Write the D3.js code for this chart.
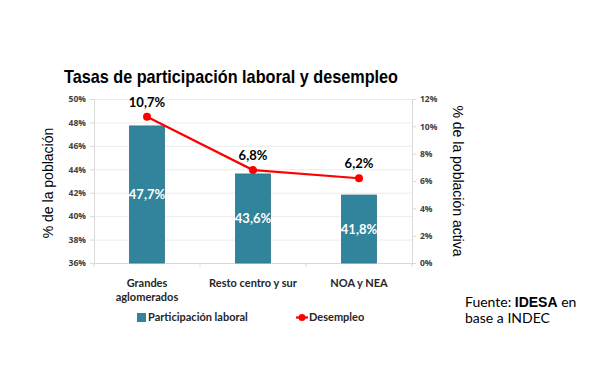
<!DOCTYPE html>
<html>
<head>
<meta charset="utf-8">
<script src="https://cdn.jsdelivr.net/npm/d3@7"></script>
<style>
  body { margin: 0; background: #fff; }
  svg text { font-family: Lato, "Open Sans", sans-serif; }
</style>
</head>
<body>
<svg id="chart" width="612" height="370"></svg>
<script>
// data
var regions = [['Grandes', 'aglomerados'], ['Resto centro y sur'], ['NOA y NEA']];
var participacion = [47.7, 43.6, 41.8];
var desempleo = [10.7, 6.8, 6.2];
var leftTicks = [36, 38, 40, 42, 44, 46, 48, 50];
var rightTicks = [0, 2, 4, 6, 8, 10, 12];

var svg = d3.select('#chart');
var plot = { left: 94, right: 412, top: 99, bottom: 263 };

var fmt = function(v) { return v.toFixed(1).replace('.', ',') + '%'; };

var x = d3.scaleBand()
  .domain(d3.range(regions.length))
  .range([plot.left, plot.right])
  .paddingInner(0.67)
  .paddingOuter(0.335);

var yLeft = d3.scaleLinear().domain([36, 50]).range([plot.bottom, plot.top]);
var yRight = d3.scaleLinear().domain([0, 12]).range([plot.bottom, plot.top]);

// title
svg.append('text')
  .attr('x', 231).attr('y', 83)
  .attr('text-anchor', 'middle')
  .style('font-family', '"Liberation Sans", Arial, sans-serif')
  .style('font-weight', 'bold')
  .style('font-size', '19px')
  .attr('textLength', 334)
  .attr('lengthAdjust', 'spacingAndGlyphs')
  .text('Tasas de participación laboral y desempleo');

// gridlines
svg.append('g').selectAll('line').data(leftTicks.slice(1)).join('line')
  .attr('x1', plot.left).attr('x2', plot.right)
  .attr('y1', function(d) { return yLeft(d) + 0.5; })
  .attr('y2', function(d) { return yLeft(d) + 0.5; })
  .attr('stroke', '#ececec');

// left axis
var gl = svg.append('g').attr('transform', 'translate(' + plot.left + ',0)')
  .call(d3.axisLeft(yLeft).tickValues(leftTicks).tickSize(4).tickPadding(4)
    .tickFormat(function(d) { return d + '%'; }));
// right axis
var gr = svg.append('g').attr('transform', 'translate(' + plot.right + ',0)')
  .call(d3.axisRight(yRight).tickValues(rightTicks).tickSize(4).tickPadding(4)
    .tickFormat(function(d) { return d + '%'; }));

[gl, gr].forEach(function(g) {
  g.select('.domain').attr('stroke', '#d9d9d9');
  g.selectAll('.tick line').attr('stroke', '#d9d9d9');
  g.selectAll('.tick text')
    .style('font-family', '"Open Sans", sans-serif')
    .style('font-weight', 'bold')
    .style('font-size', '8.5px')
    .attr('fill', '#404040');
});

// x axis baseline + tick marks between categories
svg.append('line')
  .attr('x1', plot.left).attr('x2', plot.right)
  .attr('y1', plot.bottom + 0.5).attr('y2', plot.bottom + 0.5)
  .attr('stroke', '#d9d9d9');
svg.append('g').selectAll('line').data(d3.range(regions.length + 1)).join('line')
  .attr('x1', function(i) { return plot.left + i * (plot.right - plot.left) / regions.length; })
  .attr('x2', function(i) { return plot.left + i * (plot.right - plot.left) / regions.length; })
  .attr('y1', plot.bottom).attr('y2', plot.bottom + 4)
  .attr('stroke', '#d9d9d9');

// bars
svg.append('g').selectAll('rect').data(participacion).join('rect')
  .attr('x', function(d, i) { return x(i); })
  .attr('width', x.bandwidth())
  .attr('y', function(d) { return yLeft(d); })
  .attr('height', function(d) { return plot.bottom - yLeft(d); })
  .attr('fill', '#31849b')
  .attr('stroke', '#2a7387')
  .attr('stroke-width', 0.8);

svg.append('g').selectAll('text').data(participacion).join('text')
  .attr('x', function(d, i) { return x(i) + x.bandwidth() / 2; })
  .attr('y', function(d) { return (yLeft(d) + plot.bottom) / 2 + 5; })
  .attr('text-anchor', 'middle')
  .attr('fill', '#fff')
  .style('font-weight', 'bold')
  .style('font-size', '13px')
  .text(fmt);

// line
var cx = function(d, i) { return x(i) + x.bandwidth() / 2; };
svg.append('path')
  .datum(desempleo)
  .attr('fill', 'none')
  .attr('stroke', '#ff0000')
  .attr('stroke-width', 2.2)
  .attr('d', d3.line().x(cx).y(function(d) { return yRight(d); }));

svg.append('g').selectAll('circle').data(desempleo).join('circle')
  .attr('cx', cx)
  .attr('cy', function(d) { return yRight(d); })
  .attr('r', 4)
  .attr('fill', '#ff0000');

svg.append('g').selectAll('text').data(desempleo).join('text')
  .attr('x', cx)
  .attr('y', function(d) { return yRight(d) - 10; })
  .attr('text-anchor', 'middle')
  .attr('fill', '#000')
  .style('font-weight', 'bold')
  .style('font-size', '13px')
  .text(fmt);

// category labels
var cat = svg.append('g').selectAll('text').data(regions).join('text')
  .attr('x', function(d, i) { return x(i) + x.bandwidth() / 2; })
  .attr('y', 287)
  .attr('text-anchor', 'middle')
  .attr('fill', '#262626')
  .style('font-weight', 'bold')
  .style('font-size', '11px');
cat.selectAll('tspan').data(function(d) { return d; }).join('tspan')
  .attr('x', function() { return this.parentNode.getAttribute('x'); })
  .attr('dy', function(d, j) { return j ? 14 : 0; })
  .text(function(d) { return d; });

// axis titles
svg.append('text')
  .attr('transform', 'translate(53,' + ((plot.top + plot.bottom) / 2 + 2) + ') rotate(-90)')
  .attr('text-anchor', 'middle')
  .style('font-family', '"Liberation Sans", Arial, sans-serif')
  .style('font-size', '14px')
  .attr('fill', '#000')
  .text('% de la población');
svg.append('text')
  .attr('transform', 'translate(453,' + (plot.top + plot.bottom) / 2 + ') rotate(90)')
  .attr('text-anchor', 'middle')
  .style('font-family', '"Liberation Sans", Arial, sans-serif')
  .style('font-size', '14px')
  .attr('fill', '#000')
  .text('% de la población activa');

// legend
var lg = svg.append('g').attr('transform', 'translate(0,321)');
lg.append('rect').attr('x', 137).attr('y', -8).attr('width', 9).attr('height', 9).attr('fill', '#31849b');
lg.append('text').attr('x', 148).attr('y', 0)
  .style('font-weight', 'bold').style('font-size', '11px').attr('fill', '#262626')
  .text('Participación laboral');
lg.append('line').attr('x1', 296).attr('x2', 308).attr('y1', -3.5).attr('y2', -3.5)
  .attr('stroke', '#ff0000').attr('stroke-width', 2.2);
lg.append('circle').attr('cx', 302).attr('cy', -3.5).attr('r', 3.5).attr('fill', '#ff0000');
lg.append('text').attr('x', 309).attr('y', 0)
  .style('font-weight', 'bold').style('font-size', '11px').attr('fill', '#262626')
  .text('Desempleo');

// source
var src = svg.append('text').attr('x', 465).attr('y', 307)
  .style('font-size', '14px').attr('fill', '#000');
src.append('tspan').text('Fuente: ');
src.append('tspan').style('font-family', '"Liberation Sans", Arial, sans-serif')
  .style('font-weight', 'bold').text('IDESA');
src.append('tspan').text(' en');
svg.append('text').attr('x', 465).attr('y', 323)
  .style('font-size', '14px').attr('fill', '#000')
  .text('base a INDEC');
</script>
</body>
</html>
